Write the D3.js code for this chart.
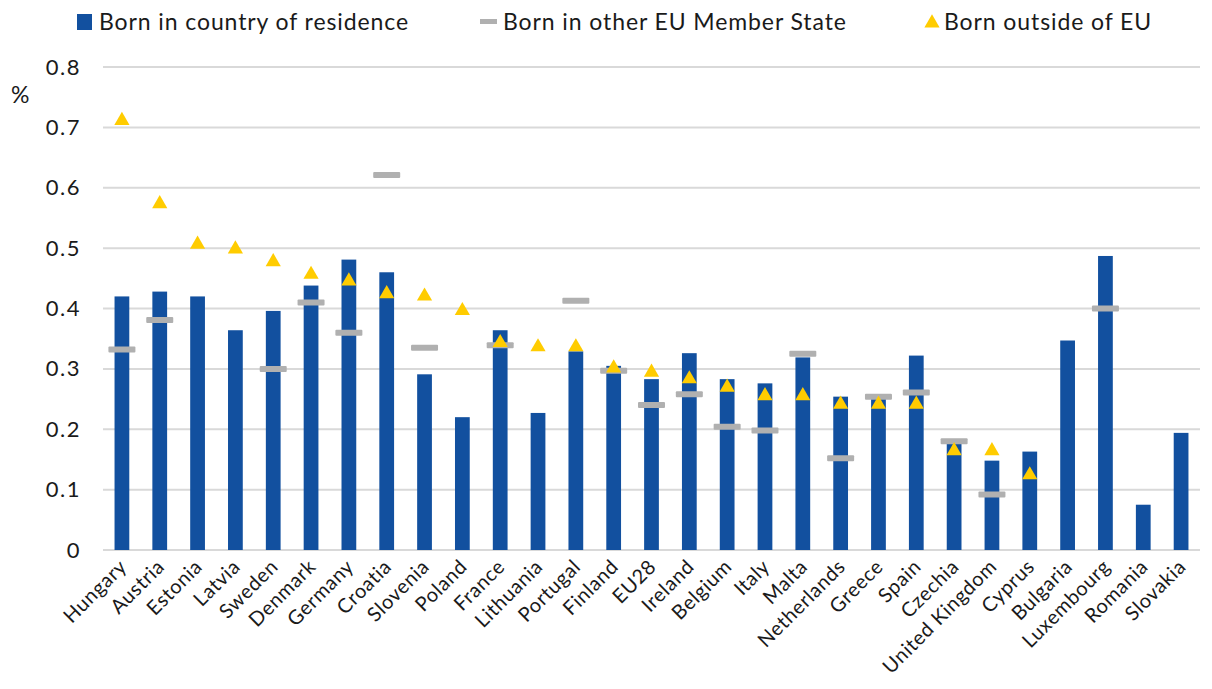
<!DOCTYPE html>
<html><head><meta charset="utf-8">
<script src="https://cdn.jsdelivr.net/npm/d3@7"></script>
<style>body{margin:0;background:#fff;} svg{display:block;font-family:"Lato","Noto Sans",sans-serif;}</style>
</head><body><div id="chart"></div>
<script>
const categories = ["Hungary","Austria","Estonia","Latvia","Sweden","Denmark","Germany","Croatia","Slovenia","Poland","France","Lithuania","Portugal","Finland","EU28","Ireland","Belgium","Italy","Malta","Netherlands","Greece","Spain","Czechia","United Kingdom","Cyprus","Bulgaria","Luxembourg","Romania","Slovakia"];
const bornResidence = [0.420,0.428,0.420,0.364,0.396,0.438,0.481,0.460,0.291,0.220,0.364,0.227,0.329,0.305,0.283,0.326,0.283,0.276,0.319,0.254,0.254,0.322,0.179,0.148,0.163,0.347,0.487,0.075,0.194];
const bornOtherEU = [0.332,0.381,null,null,0.300,0.410,0.360,0.621,0.335,null,0.339,null,0.413,0.297,0.240,0.258,0.204,0.198,0.325,0.152,0.254,0.261,0.180,0.092,null,null,0.400,null,null];
const bornOutsideEU = [0.713,0.575,0.508,0.500,0.479,0.458,0.447,0.426,0.422,0.398,0.345,0.338,0.338,0.303,0.296,0.285,0.271,0.257,0.257,0.243,0.243,0.243,0.166,0.166,0.126,null,null,null,null];
const yTicks = [0,0.1,0.2,0.3,0.4,0.5,0.6,0.7,0.8];
const seriesNames = ["Born in country of residence","Born in other EU Member State","Born outside of EU"];

const W=1212,H=689;
const colors={bar:"#12509F",dash:"#B0B0B0",tri:"#FFCC00",grid:"#D9D9D9",text:"#1a1a1a"};
const svg=d3.select("#chart").append("svg").attr("width",W).attr("height",H);
const m={left:103,right:12,top:67,bottom:139};
const x=d3.scaleBand().domain(categories).range([m.left,W-m.right]).paddingInner(0.61).paddingOuter(0.305);
const y=d3.scaleLinear().domain([0,0.8]).range([H-m.bottom,m.top]);

// grid
svg.append("g").selectAll("line").data(yTicks).join("line")
  .attr("x1",m.left).attr("x2",W-m.right).attr("y1",d=>y(d)).attr("y2",d=>y(d))
  .attr("stroke",colors.grid).attr("stroke-width",2);

// y axis labels
const yAxis=d3.axisLeft(y).tickValues(yTicks).tickFormat(d=>d===0?"0":d3.format(".1f")(d)).tickSize(0).tickPadding(22);
const ya=svg.append("g").attr("transform",`translate(${m.left},0)`).call(yAxis);
ya.select(".domain").remove();
ya.selectAll("text").attr("font-size",22).attr("letter-spacing",1.5).attr("fill",colors.text).attr("font-family","Lato,'Noto Sans',sans-serif");
svg.append("text").attr("x",11).attr("y",103).attr("font-size",23).attr("fill",colors.text).text("%");

// bars
const bw=x.bandwidth();
svg.append("g").selectAll("rect").data(categories).join("rect")
  .attr("x",d=>x(d)).attr("width",bw)
  .attr("y",(d,i)=>y(bornResidence[i])).attr("height",(d,i)=>y(0)-y(bornResidence[i]))
  .attr("fill",colors.bar);

// dashes
const dashData=categories.map((c,i)=>({c,v:bornOtherEU[i]})).filter(d=>d.v!=null);
svg.append("g").selectAll("rect").data(dashData).join("rect")
  .attr("x",d=>x(d.c)+bw/2-13.5).attr("width",27)
  .attr("y",d=>y(d.v)-3).attr("height",6).attr("rx",1)
  .attr("fill",colors.dash);

// triangles
const triData=categories.map((c,i)=>({c,v:bornOutsideEU[i]})).filter(d=>d.v!=null);
const tri=d3.symbol().type(d3.symbolTriangle).size(100);
svg.append("g").selectAll("path").data(triData).join("path")
  .attr("d",tri).attr("transform",d=>`translate(${x(d.c)+bw/2},${y(d.v)+1})`)
  .attr("fill",colors.tri);

// x axis labels
const xa=svg.append("g").attr("transform",`translate(0,${y(0)})`)
  .call(d3.axisBottom(x).tickSize(0).tickPadding(0));
xa.select(".domain").remove();
xa.selectAll("text")
  .attr("font-size",20).attr("letter-spacing",0.6).attr("fill",colors.text).attr("font-family","Lato,'Noto Sans',sans-serif")
  .attr("text-anchor","end").attr("dy",0)
  .attr("transform","translate(6,18) rotate(-45)");

// legend
const lg=svg.append("g").attr("font-size",23).attr("letter-spacing",0.9).attr("fill",colors.text);
lg.append("rect").attr("x",77).attr("y",14).attr("width",15).attr("height",16).attr("fill",colors.bar);
lg.append("text").attr("x",99).attr("y",30).text(seriesNames[0]);
lg.append("rect").attr("x",480).attr("y",19).attr("width",17).attr("height",5).attr("fill",colors.dash);
lg.append("text").attr("x",503).attr("y",30).text(seriesNames[1]);
lg.append("path").attr("d",d3.symbol().type(d3.symbolTriangle).size(100)()).attr("transform","translate(932,23)").attr("fill",colors.tri);
lg.append("text").attr("x",944).attr("y",30).text(seriesNames[2]);
</script></body></html>
